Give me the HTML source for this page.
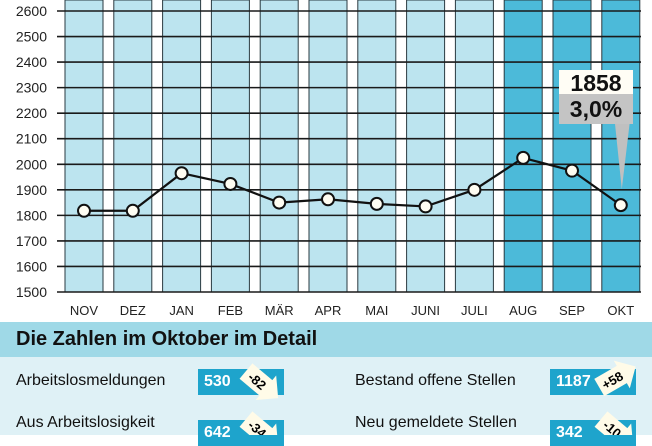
<!DOCTYPE html>
<html><head><meta charset="utf-8"><style>
body{margin:0;width:652px;height:435px;overflow:hidden;background:#fff;font-family:"Liberation Sans",sans-serif;position:relative}
.t{position:absolute;font-size:16px;color:#111;white-space:nowrap}
.badge{position:absolute;height:26px;background:#1ea4cc;color:#fff;font-weight:bold;font-size:16px;line-height:26px;padding-left:6px;box-sizing:border-box}
</style></head><body>
<svg id="chart" width="652" height="322" style="position:absolute;left:0;top:0"></svg>
<div style="position:absolute;left:0;top:322px;width:652px;height:35px;background:#9fd9e7"></div>
<div class="t" style="left:16px;top:328px;font-size:20px;font-weight:bold">Die Zahlen im Oktober im Detail</div>
<div style="position:absolute;left:0;top:357px;width:652px;height:78px;background:#dff1f6"></div>
<div class="t" style="left:16px;top:372px">Arbeitslosmeldungen</div>
<div class="t" style="left:16px;top:414px">Aus Arbeitslosigkeit</div>
<div class="t" style="left:355px;top:372px">Bestand offene Stellen</div>
<div class="t" style="left:355px;top:414px">Neu gemeldete Stellen</div>
<div class="badge" style="left:198px;top:369px;width:86px">530</div>
<div class="badge" style="left:198px;top:420px;width:86px">642</div>
<div class="badge" style="left:550px;top:369px;width:86px">1187</div>
<div class="badge" style="left:550px;top:420px;width:86px">342</div>
<svg width="652" height="435" style="position:absolute;left:0;top:0">
<g transform="translate(259,382) rotate(40)"><polygon points="-17,-10 9,-10 9,-16 25,0 9,16 9,10 -17,10" fill="#fffbe8"/><text x="-2" y="5" font-size="13" font-weight="bold" text-anchor="middle" font-family="Liberation Sans">-82</text></g>
<g transform="translate(259,430) rotate(40)"><polygon points="-17,-10 9,-10 9,-16 25,0 9,16 9,10 -17,10" fill="#fffbe8"/><text x="-2" y="5" font-size="13" font-weight="bold" text-anchor="middle" font-family="Liberation Sans">-34</text></g>
<g transform="translate(614,379) rotate(-30)"><polygon points="-17,-10 9,-10 9,-16 25,0 9,16 9,10 -17,10" fill="#fffbe8"/><text x="-2" y="5" font-size="13" font-weight="bold" text-anchor="middle" font-family="Liberation Sans">+58</text></g>
<g transform="translate(614,430) rotate(40)"><polygon points="-17,-10 9,-10 9,-16 25,0 9,16 9,10 -17,10" fill="#fffbe8"/><text x="-2" y="5" font-size="13" font-weight="bold" text-anchor="middle" font-family="Liberation Sans">-10</text></g>
</svg>
<script>
const months=["NOV","DEZ","JAN","FEB","MÄR","APR","MAI","JUNI","JULI","AUG","SEP","OKT"];
const values=[1818,1818,1965,1923,1850,1863,1845,1835,1900,2025,1975,1840];
const highlighted=[false,false,false,false,false,false,false,false,false,true,true,true];
const yTicks=[1500,1600,1700,1800,1900,2000,2100,2200,2300,2400,2500,2600];
const ns="http://www.w3.org/2000/svg";
const svg=document.getElementById("chart");
const yS=v=>11+(2600-v)*(292-11)/1100;
const x0=65,pitch=48.8,bw=38;
const xC=i=>x0+i*pitch+bw/2;
function mk(t,a){const e=document.createElementNS(ns,t);for(const k in a)e.setAttribute(k,a[k]);svg.appendChild(e);return e;}
months.forEach((m,i)=>{
 const r=mk("rect",{x:x0+i*pitch,y:0,width:bw,height:yS(1500),fill:highlighted[i]?"#4cbad9":"#bce4ef",stroke:"#2a3a40","stroke-width":1});
 
 
 const t=mk("text",{x:xC(i),y:315,"text-anchor":"middle","font-size":13,fill:"#222","font-family":"Liberation Sans"});
 t.textContent=m;
 
 
});
yTicks.forEach(v=>{
 const l=mk("line",{x1:57,x2:641,y1:yS(v),y2:yS(v),stroke:"#1a1a1a","stroke-width":1.6});
 
 
 const t=mk("text",{x:47,y:yS(v)+5,"text-anchor":"end","font-size":14,fill:"#222","font-family":"Liberation Sans"});
 t.textContent=v;
 
 
});
const line=mk("polyline",{points:values.map((v,i)=>xC(i)+","+yS(v)).join(" "),fill:"none",stroke:"#111","stroke-width":2.2});


values.forEach((v,i)=>{
 const c=mk("circle",{cx:xC(i),cy:yS(v),r:6,fill:"#fffdf2",stroke:"#111","stroke-width":2});
 
 
});
const li=11,lx=xC(li);
const ptr=mk("polygon",{points:(lx-6)+",122 "+(lx+9)+",122 "+(lx+1)+","+(yS(values[li])-16),fill:"#c0c0c0"});


const b1=mk("rect",{x:559,y:70,width:74,height:24,fill:"#fffdf5"});


const b2=mk("rect",{x:559,y:94,width:74,height:30,fill:"#c4c4c4"});


const t1=mk("text",{x:596,y:91,"text-anchor":"middle","font-size":23,"font-weight":"bold",fill:"#111","font-family":"Liberation Sans"});
t1.textContent="1858";


const t2=mk("text",{x:596,y:117,"text-anchor":"middle","font-size":23,"font-weight":"bold",fill:"#111","font-family":"Liberation Sans"});
t2.textContent="3,0%";


</script>
</body></html>
